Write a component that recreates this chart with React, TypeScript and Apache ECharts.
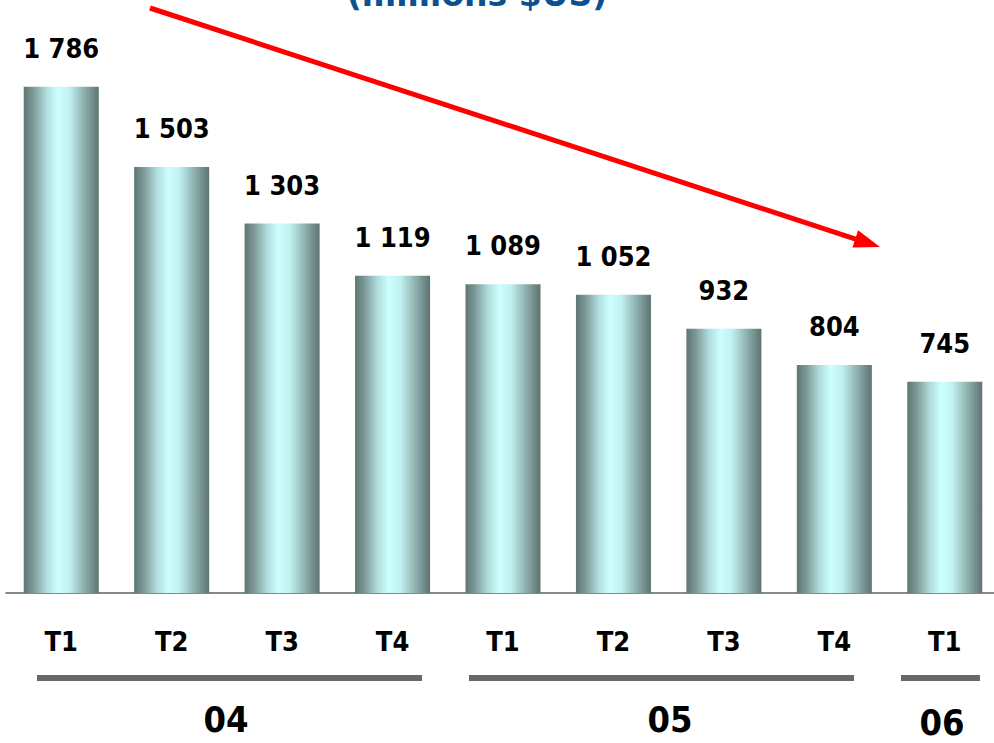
import React, { useEffect, useRef } from "react";
import * as echarts from "echarts";

const years = ["04", "04", "04", "04", "05", "05", "05", "05", "06"];
const quarters = ["T1", "T2", "T3", "T4", "T1", "T2", "T3", "T4", "T1"];
const values = [1786, 1503, 1303, 1119, 1089, 1052, 932, 804, 745];
const valueLabels = ["1 786", "1 503", "1 303", "1 119", "1 089", "1 052", "932", "804", "745"];
const yearGroups = ["04", "05", "06"];
const titleText = "(millions $US)";

const FONT = "'DejaVu Sans Condensed', 'DejaVu Sans', Verdana, sans-serif";

export default function App() {
  const ref = useRef<HTMLDivElement>(null);
  useEffect(() => {
    if (!ref.current) return;
    const chart = echarts.init(ref.current, null, { renderer: "svg" });
    const categories = quarters.map((q, i) => years[i] + "-" + q + "-" + i);
    const barGradient = new echarts.graphic.LinearGradient(0, 0, 1, 0, [
      { offset: 0, color: "#5d7674" },
      { offset: 0.12, color: "#7b9795" },
      { offset: 0.3, color: "#b0dcdc" },
      { offset: 0.45, color: "#ccffff" },
      { offset: 0.6, color: "#c2f2f2" },
      { offset: 0.8, color: "#8fb2b0" },
      { offset: 1, color: "#5d7371" },
    ]);
    const groupLines = [
      { x1: 37, x2: 422, lx: 226, ly: 719 },
      { x1: 469, x2: 854, lx: 670, ly: 719 },
      { x1: 901, x2: 980, lx: 942, ly: 722 },
    ];
    // arrow
    const sx = 150, sy = 8, tx = 880, ty = 247;
    const dx = tx - sx, dy = ty - sy;
    const len = Math.sqrt(dx * dx + dy * dy);
    const ux = dx / len, uy = dy / len;
    const headLen = 26, headHalf = 9;
    const bx = tx - ux * headLen, by = ty - uy * headLen;
    const graphics: any[] = [
      {
        type: "text",
        x: 477,
        y: 11,
        style: {
          text: titleText,
          fontFamily: "'DejaVu Sans', Verdana, sans-serif",
          fontWeight: "bold",
          fontSize: 33,
          fill: "#0b5091",
          align: "center",
          verticalAlign: "bottom",
        },
      },
      {
        type: "line",
        shape: { x1: sx, y1: sy, x2: bx + ux * 2, y2: by + uy * 2 },
        style: { stroke: "#ff0000", lineWidth: 5 },
      },
      {
        type: "polygon",
        shape: {
          points: [
            [tx, ty],
            [bx - uy * headHalf, by + ux * headHalf],
            [bx + uy * headHalf, by - ux * headHalf],
          ],
        },
        style: { fill: "#ff0000" },
      },
    ];
    groupLines.forEach((g, i) => {
      graphics.push({
        type: "line",
        shape: { x1: g.x1, y1: 678, x2: g.x2, y2: 678 },
        style: { stroke: "#686868", lineWidth: 6 },
      });
      graphics.push({
        type: "text",
        x: g.lx,
        y: g.ly,
        style: {
          text: yearGroups[i],
          fontFamily: FONT,
          fontWeight: "bold",
          fontSize: 36,
          fill: "#000",
          align: "center",
          verticalAlign: "middle",
        },
      });
    });

    chart.setOption({
      animation: false,
      grid: {
        left: 6,
        width: 994,
        top: 26,
        bottom: 150,
        containLabel: false,
        outerBoundsMode: "none",
      },
      xAxis: {
        type: "category",
        data: categories,
        axisLine: { show: true, lineStyle: { color: "#606060", width: 1.5 } },
        axisTick: { show: false },
        axisLabel: {
          formatter: (v: string) => v.split("-")[1],
          fontFamily: FONT,
          fontWeight: "bold",
          fontSize: 27,
          color: "#000",
          margin: 35,
          interval: 0,
        },
      },
      yAxis: {
        type: "value",
        min: 0,
        max: 2000,
        show: false,
        splitLine: { show: false },
      },
      series: [
        {
          type: "bar",
          data: values,
          barWidth: 75,
          itemStyle: { color: barGradient },
          label: {
            show: true,
            position: "top",
            distance: 25,
            formatter: (p: any) => valueLabels[p.dataIndex],
            fontFamily: FONT,
            fontWeight: "bold",
            fontSize: 27,
            color: "#000",
          },
        },
      ],
      graphic: graphics,
    });
    return () => chart.dispose();
  }, []);
  return (
    <div
      ref={ref}
      style={{ position: "fixed", left: 0, top: 0, width: 994, height: 743, background: "#fff" }}
    />
  );
}
